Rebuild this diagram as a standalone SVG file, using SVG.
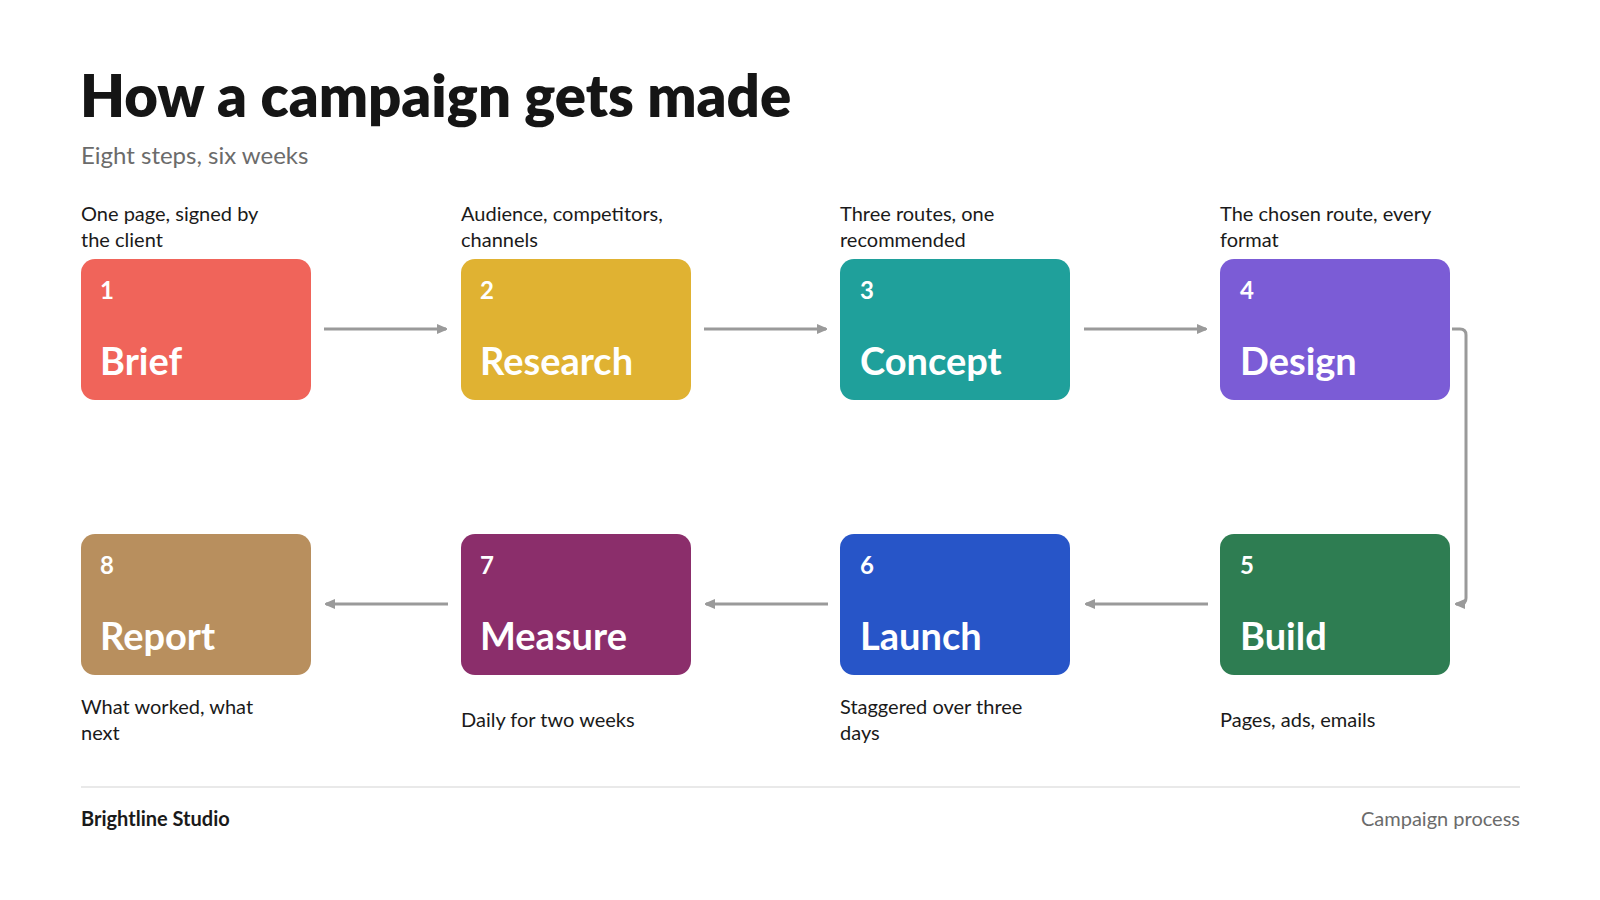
<svg xmlns="http://www.w3.org/2000/svg" width="1600" height="900" viewBox="0 0 1600 900">
<style>
text{font-family:Lato,"Open Sans",sans-serif}
.t{font-size:58px;font-weight:800;fill:#151515}
.s{font-size:24px;fill:#6b6b6b}
.d{font-size:20px;fill:#1a1a1a}
.n{font-size:24px;font-weight:700;fill:#fff}
.l{font-size:38px;font-weight:700;fill:#fff}
.c{fill:none;stroke:#9a9a9a;stroke-width:3}
</style>
<defs><marker id="a" markerWidth="10" markerHeight="10" refX="9" refY="5" orient="auto" markerUnits="userSpaceOnUse"><path d="M0,0 L12,5 L0,10z" fill="#9a9a9a"/></marker></defs>
<rect width="1600" height="900" fill="#fff"/>
<text class="t" x="80" y="117">How a campaign gets made</text>
<text class="s" x="81" y="164">Eight steps, six weeks</text>
<g id="connectors">
<path class="c" d="M324,329H446" marker-end="url(#a)"/>
<path class="c" d="M704,329H826" marker-end="url(#a)"/>
<path class="c" d="M1084,329H1206" marker-end="url(#a)"/>
<path class="c" d="M1452,329H1460Q1466,329 1466,335V598Q1466,604 1460,604H1456" marker-end="url(#a)"/>
<path class="c" d="M1208,604H1086" marker-end="url(#a)"/>
<path class="c" d="M828,604H706" marker-end="url(#a)"/>
<path class="c" d="M448,604H326" marker-end="url(#a)"/>
</g>
<g id="n1"><text class="d" x="81" y="221">One page, signed by</text><text class="d" x="81" y="247">the client</text><rect x="81" y="259" width="230" height="141" rx="14" fill="#F0645A"/><text class="n" x="100" y="299">1</text><text class="l" x="100" y="375">Brief</text></g>
<g id="n2"><text class="d" x="461" y="221">Audience, competitors,</text><text class="d" x="461" y="247">channels</text><rect x="461" y="259" width="230" height="141" rx="14" fill="#E0B232"/><text class="n" x="480" y="299">2</text><text class="l" x="480" y="375">Research</text></g>
<g id="n3"><text class="d" x="840" y="221">Three routes, one</text><text class="d" x="840" y="247">recommended</text><rect x="840" y="259" width="230" height="141" rx="14" fill="#1FA09B"/><text class="n" x="860" y="299">3</text><text class="l" x="860" y="375">Concept</text></g>
<g id="n4"><text class="d" x="1220" y="221">The chosen route, every</text><text class="d" x="1220" y="247">format</text><rect x="1220" y="259" width="230" height="141" rx="14" fill="#7B5CD6"/><text class="n" x="1240" y="299">4</text><text class="l" x="1240" y="375">Design</text></g>
<g id="n5"><rect x="1220" y="534" width="230" height="141" rx="14" fill="#2E7D52"/><text class="n" x="1240" y="574">5</text><text class="l" x="1240" y="650">Build</text><text class="d" x="1220" y="727">Pages, ads, emails</text></g>
<g id="n6"><rect x="840" y="534" width="230" height="141" rx="14" fill="#2755C8"/><text class="n" x="860" y="574">6</text><text class="l" x="860" y="650">Launch</text><text class="d" x="840" y="714">Staggered over three</text><text class="d" x="840" y="740">days</text></g>
<g id="n7"><rect x="461" y="534" width="230" height="141" rx="14" fill="#8B2E6B"/><text class="n" x="480" y="574">7</text><text class="l" x="480" y="650">Measure</text><text class="d" x="461" y="727">Daily for two weeks</text></g>
<g id="n8"><rect x="81" y="534" width="230" height="141" rx="14" fill="#B88F5E"/><text class="n" x="100" y="574">8</text><text class="l" x="100" y="650">Report</text><text class="d" x="81" y="714">What worked, what</text><text class="d" x="81" y="740">next</text></g>
<line x1="81" y1="787" x2="1520" y2="787" stroke="#e2e2e2" stroke-width="1.5"/>
<text x="81" y="826" style="font-size:20px;font-weight:700;fill:#1a1a1a">Brightline Studio</text>
<text x="1520" y="826" text-anchor="end" style="font-size:20px;fill:#6b6b6b">Campaign process</text>
</svg>
